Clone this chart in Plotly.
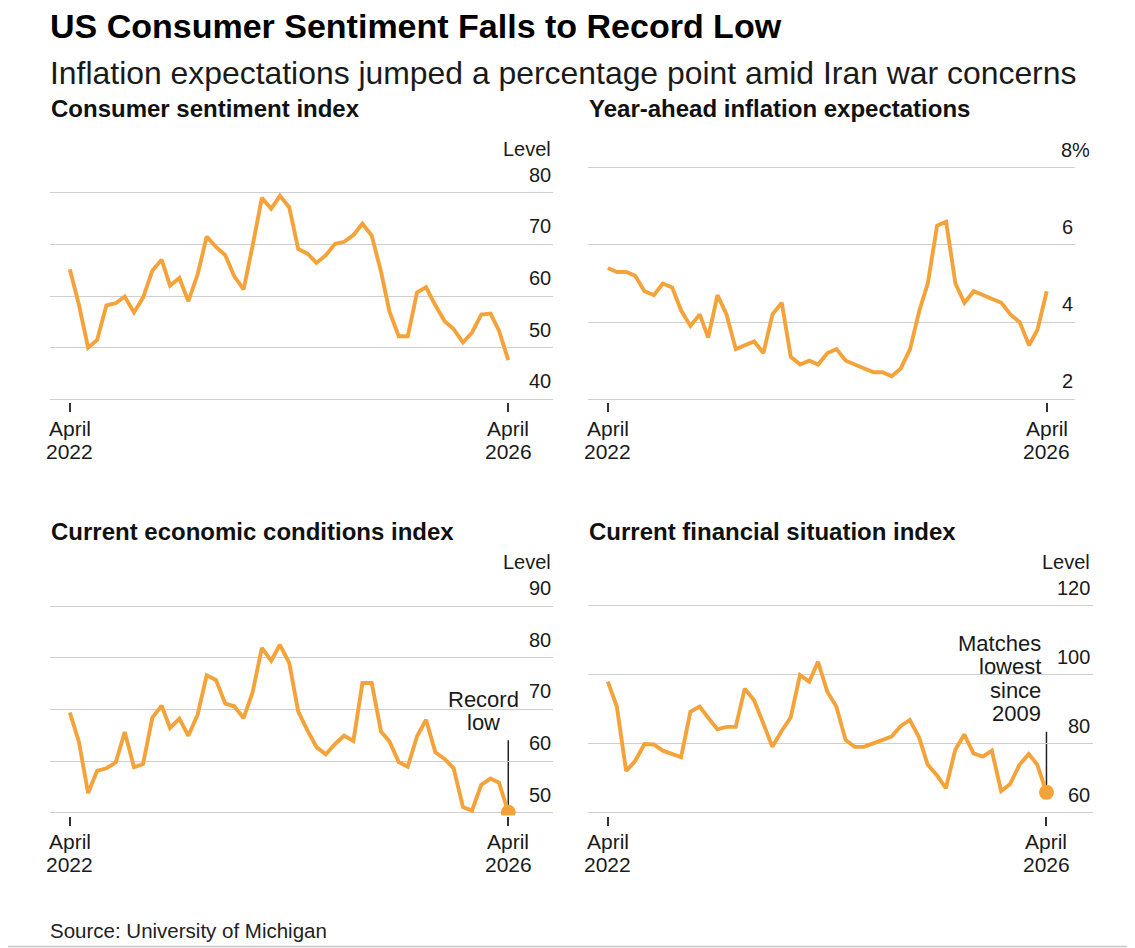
"""
US Consumer Sentiment Falls to Record Low
Four small-multiple line charts of University of Michigan survey data.
"""

import pandas as pd
import plotly.graph_objects as go

# ===== DATA =====
months = pd.date_range("2022-04-01", "2026-04-01", freq="MS")

sentiment = [
    65.2, 58.4, 50.0, 51.5, 58.2, 58.6, 59.9, 56.8, 59.7,
    64.9, 67.0, 62.0, 63.5, 59.0, 64.2, 71.5, 69.5, 67.9, 63.8, 61.3, 69.7,
    79.0, 76.9, 79.4, 77.2, 69.1, 68.2, 66.4, 67.9, 70.1, 70.5, 71.8, 74.0,
    71.7, 64.7, 57.0, 52.2, 52.2, 60.7, 61.7, 58.2, 55.1, 53.6, 51.0, 52.9,
    56.4, 56.6, 53.3, 47.6,
]

inflation_expectations = [
    5.4, 5.3, 5.3, 5.2, 4.8, 4.7, 5.0, 4.9, 4.3,
    3.9, 4.2, 3.6, 4.7, 4.2, 3.3, 3.4, 3.5, 3.2, 4.2, 4.5, 3.1,
    2.9, 3.0, 2.9, 3.2, 3.3, 3.0, 2.9, 2.8, 2.7, 2.7, 2.6, 2.8,
    3.3, 4.3, 5.0, 6.5, 6.6, 5.0, 4.5, 4.8, 4.7, 4.6, 4.5, 4.2,
    4.0, 3.4, 3.8, 4.8,
]

economic_conditions = [
    69.4, 63.8, 53.8, 58.1, 58.6, 59.7, 65.6, 58.8, 59.4,
    68.4, 70.7, 66.4, 68.2, 64.9, 69.0, 76.6, 75.7, 71.1, 70.6, 68.3, 73.3,
    81.9, 79.4, 82.5, 79.0, 69.6, 65.9, 62.7, 61.3, 63.3, 64.9, 63.9, 75.1,
    75.1, 65.7, 63.8, 59.8, 58.9, 64.8, 68.0, 61.7, 60.4, 58.6, 51.1, 50.4,
    55.4, 56.6, 55.8, 50.1,
]

financial_situation = [
    98.0, 90.8, 72.1, 75.0, 79.9, 79.8, 78.0, 77.0, 76.1,
    89.3, 90.8, 87.6, 84.2, 84.9, 84.9, 96.0, 92.6, 85.9, 79.1, 83.7, 87.6,
    99.9, 98.0, 103.8, 95.1, 90.8, 81.1, 79.1, 79.1, 80.1, 81.1, 82.1, 85.1,
    86.9, 81.8, 74.0, 70.9, 67.1, 78.2, 82.7, 77.2, 76.3, 78.0, 66.3, 68.3,
    73.9, 77.0, 74.0, 65.9,
]

# y tick values per panel
sentiment_ticks = [40, 50, 60, 70, 80]
inflation_ticks = [2, 4, 6, 8]
economic_ticks = [50, 60, 70, 80, 90]
financial_ticks = [60, 80, 100, 120]

x_tick_labels = [("April", "2022"), ("April", "2026")]

# ===== STYLE =====
# the page body adds an 8px margin, so the figure is drawn 8px in from the corner
OFF = 8
W, H = 1135 - OFF, 948 - OFF
ORANGE = "#F4A33A"
GRID = "#cfcfcf"
INK = "#111111"
FONT = "Liberation Sans, Arial, sans-serif"


def px_x(p):
    # screen pixel -> paper fraction
    return (p - OFF) / W


def px_y(p):
    return 1 - (p - OFF) / H


# panel boxes in screen pixels: left, right, top, bottom
panels = [
    dict(title="Consumer sentiment index", data=sentiment, ticks=sentiment_ticks,
         box=(50, 553, 180, 402), yrange=[39.48, 82.46],
         xright="2026-08-28", unit="Level", label_right=553, title_y=109),
    dict(title="Year-ahead inflation expectations", data=inflation_expectations,
         ticks=inflation_ticks, box=(588, 1075, 155, 402), yrange=[1.93, 8.33],
         xright="2026-07-04", unit=None, suffix="%", label_right=1075, title_y=109),
    dict(title="Current economic conditions index", data=economic_conditions,
         ticks=economic_ticks, box=(50, 553, 590, 815.5), yrange=[49.46, 93.1],
         xright="2026-08-28", unit="Level", label_right=553, title_y=531,
         note=["Record", "low"], note_anchor="center", note_shift=-25,
         note_y=[699, 722], stem_top=64.0),
    dict(title="Current financial situation index", data=financial_situation,
         ticks=financial_ticks, box=(588, 1093, 590, 815.5), yrange=[59.19, 124.6],
         xright="2026-09-03", unit="Level", label_right=1092, title_y=531,
         note=["Matches", "lowest", "since", "2009"], note_anchor="right", note_shift=-3,
         note_y=[643, 666.5, 690, 713.5], stem_top=83.5),
]

fig = go.Figure()
annotations = []
shapes = []

for i, p in enumerate(panels, start=1):
    xa = "xaxis" if i == 1 else f"xaxis{i}"
    ya = "yaxis" if i == 1 else f"yaxis{i}"
    xr = "x" if i == 1 else f"x{i}"
    yr = "y" if i == 1 else f"y{i}"
    left, right, top, bottom = p["box"]

    fig.add_trace(go.Scatter(
        x=months, y=p["data"], mode="lines",
        line=dict(color=ORANGE, width=3.9),
        xaxis=xr, yaxis=yr, showlegend=False,
        hovertemplate="%{x|%b %Y}: %{y}<extra></extra>",
    ))

    fig.layout[xa] = dict(
        domain=[px_x(left), px_x(right)], anchor=yr,
        range=["2022-01-25", p["xright"]],
        showgrid=False, zeroline=False, showline=False,
        ticks="outside", ticklen=9, tickwidth=1.5, tickcolor="#333333",
        tickvals=[months[0], months[-1]], showticklabels=False,
    )
    fig.layout[ya] = dict(
        domain=[px_y(bottom), px_y(top)], anchor=xr,
        range=p["yrange"], tickvals=p["ticks"], showticklabels=False,
        showgrid=True, gridcolor=GRID, gridwidth=1.3,
        zeroline=False, showline=False, ticks="",
    )

    # panel title
    annotations.append(dict(
        text=f"<b>{p['title']}</b>", x=px_x(left - 1), y=px_y(p["title_y"]),
        xref="paper", yref="paper", xanchor="left", yanchor="middle",
        showarrow=False, font=dict(size=24, color=INK, family=FONT),
    ))

    # y tick labels sitting on top of the gridlines
    for j, v in enumerate(p["ticks"]):
        txt = f"{v}"
        shift = 0
        if p.get("suffix") and j == len(p["ticks"]) - 1:
            txt += p["suffix"]
            shift = 17
        annotations.append(dict(
            text=txt, x=px_x(p["label_right"]), y=v, xref="paper", yref=yr,
            xanchor="right", yanchor="middle", yshift=18, xshift=shift,
            showarrow=False, font=dict(size=20, color="#1a1a1a", family=FONT),
        ))
    if p["unit"]:
        annotations.append(dict(
            text=p["unit"], x=px_x(p["label_right"]), y=p["ticks"][-1],
            xref="paper", yref=yr, xanchor="right", yanchor="middle", yshift=44,
            showarrow=False, font=dict(size=20, color="#1a1a1a", family=FONT),
        ))

    # x tick labels (two lines, tighter than plotly's <br> spacing)
    for d, (m, yr_txt) in zip([months[0], months[-1]], x_tick_labels):
        for k, t in enumerate((m, yr_txt)):
            annotations.append(dict(
                text=t, x=d, y=px_y(bottom + 26 + 23.4 * k),
                xref=xr, yref="paper", xanchor="center", yanchor="middle",
                showarrow=False, font=dict(size=21, color="#1a1a1a", family=FONT),
            ))

    # callout on last point
    if p.get("note"):
        fig.add_trace(go.Scatter(
            x=[months[-1]], y=[p["data"][-1]], mode="markers",
            marker=dict(color=ORANGE, size=15),
            xaxis=xr, yaxis=yr, showlegend=False, hoverinfo="skip",
        ))
        shapes.append(dict(
            type="line", xref=xr, yref=yr,
            x0=months[-1], x1=months[-1], y0=p["stem_top"], y1=p["data"][-1],
            line=dict(color="#222222", width=1.5), layer="below",
        ))
        for line_txt, ly in zip(p["note"], p["note_y"]):
            annotations.append(dict(
                text=line_txt, x=months[-1], y=px_y(ly), xref=xr, yref="paper",
                xanchor=p["note_anchor"], yanchor="middle", xshift=p["note_shift"],
                showarrow=False, font=dict(size=22, color="#1a1a1a", family=FONT),
            ))

# ===== HEADLINE, SUBTITLE, SOURCE =====
annotations.append(dict(
    text="<b>US Consumer Sentiment Falls to Record Low</b>",
    x=px_x(48), y=px_y(26), xref="paper", yref="paper",
    xanchor="left", yanchor="middle", showarrow=False,
    font=dict(size=34, color="#000000", family=FONT),
))
annotations.append(dict(
    text="Inflation expectations jumped a percentage point amid Iran war concerns",
    x=px_x(48), y=px_y(73), xref="paper", yref="paper",
    xanchor="left", yanchor="middle", showarrow=False,
    font=dict(size=31.9, color="#1a1a1a", family=FONT),
))
annotations.append(dict(
    text="Source: University of Michigan",
    x=px_x(48), y=px_y(930), xref="paper", yref="paper",
    xanchor="left", yanchor="middle", showarrow=False,
    font=dict(size=20.5, color="#222222", family=FONT),
))

# thin rule along the bottom edge
shapes.append(dict(
    type="line", xref="paper", yref="paper", x0=0, x1=1,
    y0=px_y(946.5), y1=px_y(946.5), line=dict(color="#c8c8c8", width=1.5),
))

fig.update_layout(
    width=W, height=H,
    margin=dict(l=0, r=0, t=0, b=0),
    paper_bgcolor="white", plot_bgcolor="white",
    annotations=annotations, shapes=shapes,
    font=dict(family=FONT, color=INK),
    showlegend=False,
)

fig.write_html("out.html")
